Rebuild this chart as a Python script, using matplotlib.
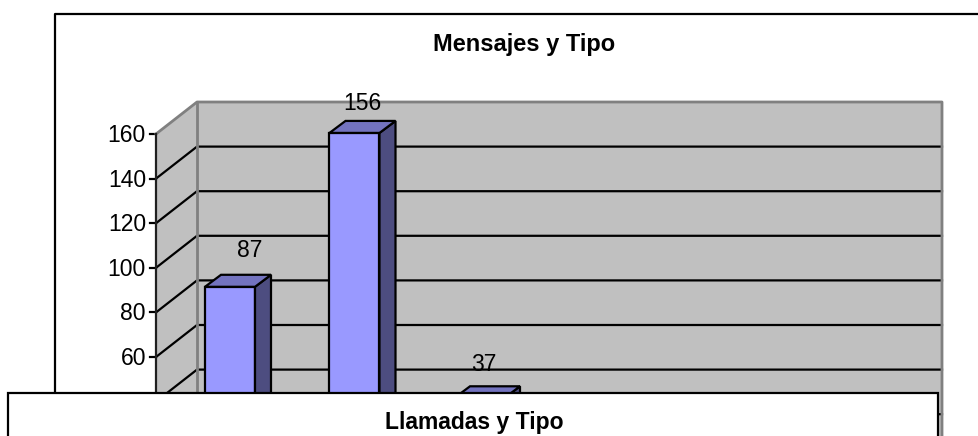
import matplotlib
matplotlib.use("Agg")
import matplotlib.pyplot as plt
from matplotlib.patches import Polygon, Rectangle

plt.rcParams['font.family'] = ['Liberation Sans', 'DejaVu Sans']

# Datos
titulo = "Mensajes y Tipo"
titulo_abajo = "Llamadas y Tipo"
valores = [87, 156, 37]
ticks = [160, 140, 120, 100, 80, 60, 40, 20, 0]
ticks_visibles = [160, 140, 120, 100, 80, 60]

# Proyeccion 3D falsa, en pixeles
X_FRENTE, X_FONDO, X_DER = 156, 197, 942
Y_160, PX_POR_UNIDAD, DEPTH_Y = 134, 2.23, 32
BAR_X0, BAR_PASO, BAR_W, BAR_DX, BAR_DY, BAR_LIFT = 205, 124.5, 50, 16, 12, 10
# las etiquetas estan movidas a mano en el original
ETIQ_DX = [20, 8, 5]
ETIQ_DY = [24, 17, 22]

GRIS = '#c0c0c0'
BORDE = '#808080'
FRENTE, LADO, TAPA = '#9999ff', '#4d4d80', '#7373bf'
LW = 1.6


def y_frente(v):
    return Y_160 + (160 - v) * PX_POR_UNIDAD


fig = plt.figure(figsize=(9.79, 4.36), dpi=100)
ax = fig.add_axes([0, 0, 1, 1])
ax.set_xlim(0, 979)
ax.set_ylim(436, 0)
ax.axis('off')

# marco del grafico de atras
ax.plot([1200, 55.5, 55.5], [14, 14, 500], color='black', lw=LW, zorder=1)
ax.text(524, 44, titulo, ha='center', va='center', fontsize=17, fontweight='bold')

# paredes
y_base = y_frente(0)
y_tope = y_frente(160)
ax.add_patch(Rectangle((X_FONDO, y_tope - DEPTH_Y), X_DER - X_FONDO, y_base - y_tope,
                       fc=GRIS, ec='none', zorder=2))
ax.add_patch(Polygon([(X_FRENTE, y_tope), (X_FONDO, y_tope - DEPTH_Y),
                      (X_FONDO, y_base - DEPTH_Y), (X_FRENTE, y_base)],
                     fc=GRIS, ec='none', zorder=2))

# lineas de division y etiquetas del eje
for t in ticks:
    y = y_frente(t)
    ax.plot([X_FRENTE - 6, X_FRENTE], [y, y], color='black', lw=LW, zorder=3)
    if t in ticks_visibles:
        ax.text(X_FRENTE - 10, y + 1.5, str(t), ha='right', va='center', fontsize=16.5, zorder=3)
    if t != 160:
        ax.plot([X_FRENTE, X_FONDO, X_DER], [y, y - DEPTH_Y, y - DEPTH_Y],
                color='black', lw=LW, zorder=3)

ax.plot([X_FRENTE, X_FONDO, X_DER, X_DER], [y_tope, y_tope - DEPTH_Y, y_tope - DEPTH_Y, y_base],
        color=BORDE, lw=2, zorder=3)
ax.plot([X_FONDO, X_FONDO], [y_tope - DEPTH_Y, y_base], color=BORDE, lw=2, zorder=3)
ax.plot([X_FRENTE, X_FRENTE], [y_tope, y_base], color='#202020', lw=LW, zorder=3)

# barras
for i, v in enumerate(valores):
    x0 = BAR_X0 + BAR_PASO * i
    x1 = x0 + BAR_W
    y0 = y_frente(0) - BAR_LIFT
    y1 = y_frente(v) - BAR_LIFT
    estilo = dict(ec='black', lw=LW, joinstyle='miter', zorder=4)
    ax.add_patch(Polygon([(x0, y0), (x0, y1), (x1, y1), (x1, y0)], fc=FRENTE, **estilo))
    ax.add_patch(Polygon([(x1, y0), (x1, y1), (x1 + BAR_DX, y1 - BAR_DY), (x1 + BAR_DX, y0 - BAR_DY)],
                         fc=LADO, **estilo))
    ax.add_patch(Polygon([(x0, y1), (x0 + BAR_DX, y1 - BAR_DY), (x1 + BAR_DX, y1 - BAR_DY), (x1, y1)],
                         fc=TAPA, **estilo))
    ax.text(x0 + BAR_W / 2 + ETIQ_DX[i], y1 - BAR_DY - ETIQ_DY[i], str(v), ha='center', va='center',
            fontsize=16.5, zorder=5)

# grafico de adelante, tapa el resto
ax.add_patch(Rectangle((8.5, 392.5), 930, 100, fc='white', ec='black', lw=LW, zorder=6))
ax.text(474, 422, titulo_abajo, ha='center', va='center', fontsize=16.5, fontweight='bold', zorder=7)

fig.savefig('out.png', dpi=100)
